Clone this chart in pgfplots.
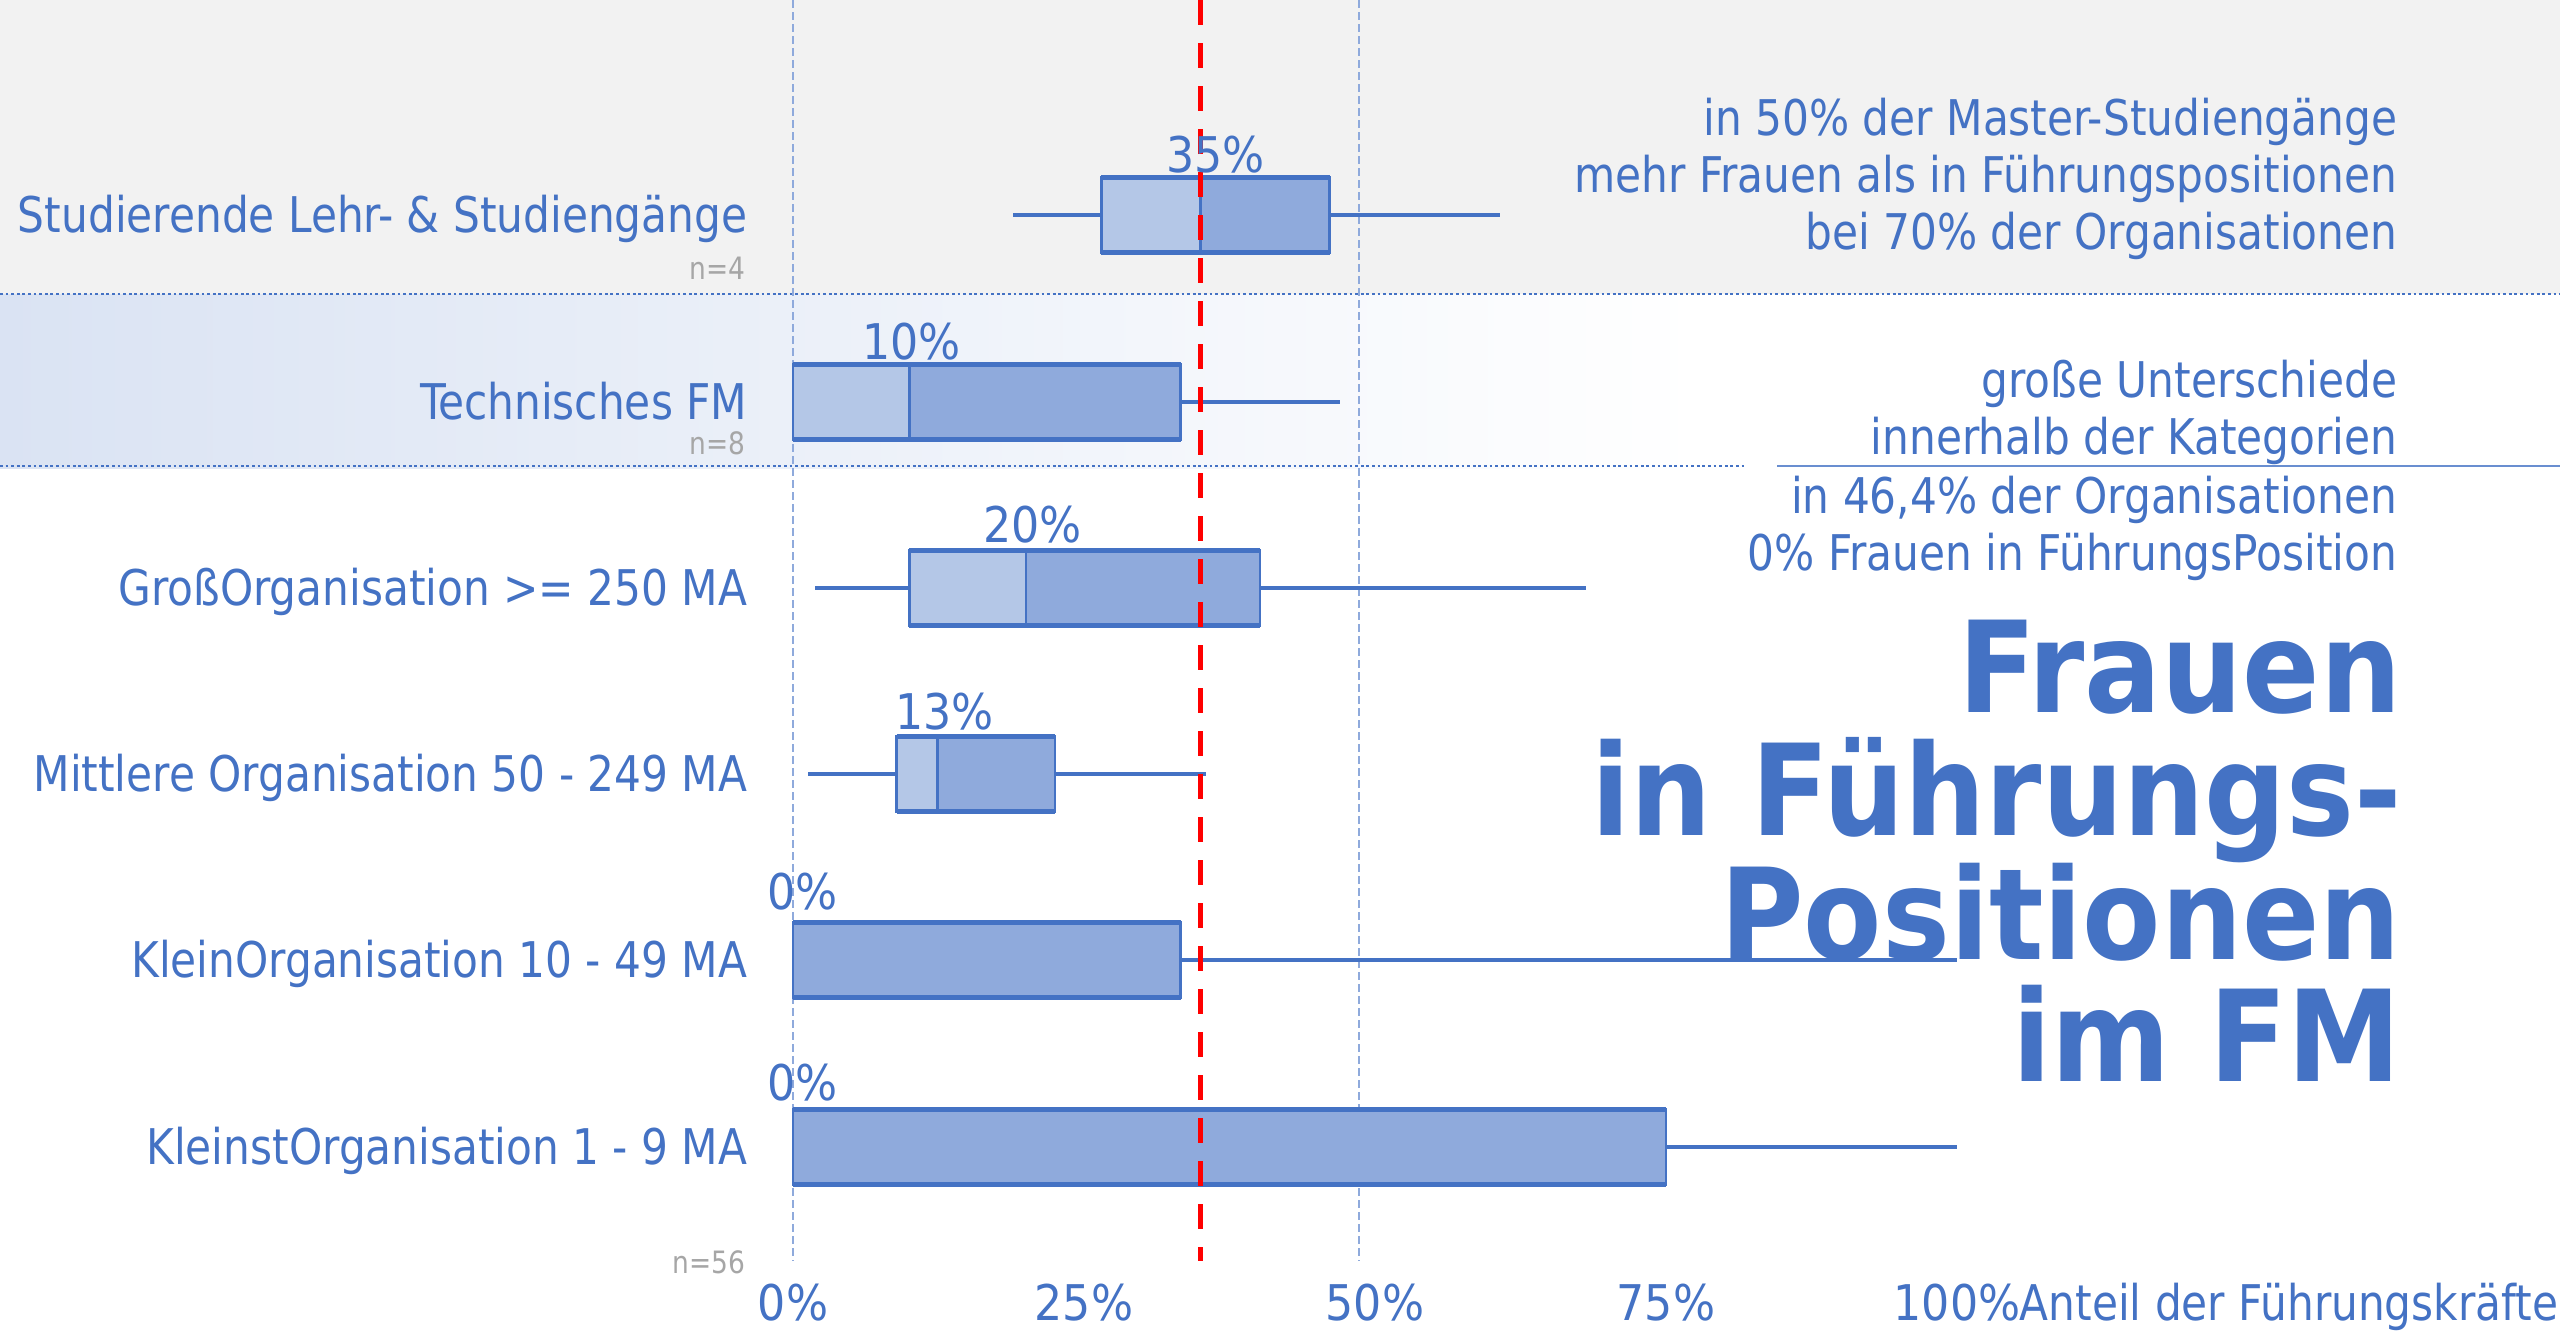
\documentclass[border=0pt]{standalone}
\usepackage{pgfplots}
\pgfplotsset{compat=1.18}
\usepgfplotslibrary{statistics}
\usepackage{fontspec}
\setmainfont{DejaVu Sans Condensed}
\newfontfamily\fmnarrow{DejaVu Sans Condensed}[FakeStretch=0.955]

\definecolor{fmblue}{HTML}{4472C4}
\definecolor{boxlight}{HTML}{B4C7E7}
\definecolor{boxdark}{HTML}{8FAADC}
\definecolor{bandgray}{HTML}{F2F2F2}
\definecolor{bandblue}{HTML}{DAE3F3}
\definecolor{gridblue}{HTML}{8FAADC}
\definecolor{ngray}{HTML}{A6A6A6}

\newcommand\fmtext{\fontsize{12.3}{14}\selectfont}
\newcommand\fmlabel{\fmnarrow\fontsize{12.3}{14}\selectfont}
\newcommand\fmnote{\fmnarrow\fontsize{7.7}{8}\selectfont}
\newcommand\fmtitle{\fontsize{31.7}{32}\selectfont\bfseries}

% two-tone boxes, no whisker caps
\pgfplotsset{
  boxplot/box extend=75,
  boxplot/draw/box/.code={%
    \fill[boxlight] (boxplot box cs:\pgfplotsboxplotvalue{lower quartile},0)
      rectangle (boxplot box cs:\pgfplotsboxplotvalue{median},1);
    \fill[boxdark] (boxplot box cs:\pgfplotsboxplotvalue{median},0)
      rectangle (boxplot box cs:\pgfplotsboxplotvalue{upper quartile},1);
    \draw[fmblue,line width=0.6pt]
      (boxplot box cs:\pgfplotsboxplotvalue{lower quartile},0)
      rectangle (boxplot box cs:\pgfplotsboxplotvalue{upper quartile},1);
    \draw[fmblue,line width=1.4pt]
      (boxplot box cs:\pgfplotsboxplotvalue{lower quartile},0)
      -- (boxplot box cs:\pgfplotsboxplotvalue{upper quartile},0)
      (boxplot box cs:\pgfplotsboxplotvalue{lower quartile},1)
      -- (boxplot box cs:\pgfplotsboxplotvalue{upper quartile},1);
  },
  boxplot/draw/median/.code={%
    \draw[fmblue,line width=0.6pt]
      (boxplot box cs:\pgfplotsboxplotvalue{median},0)
      -- (boxplot box cs:\pgfplotsboxplotvalue{median},1);
  },
  boxplot/draw/lower whisker/.code={%
    \draw[fmblue,line width=1.1pt]
      (boxplot cs:\pgfplotsboxplotvalue{lower quartile})
      -- (boxplot cs:\pgfplotsboxplotvalue{lower whisker});
  },
  boxplot/draw/upper whisker/.code={%
    \draw[fmblue,line width=1.1pt]
      (boxplot cs:\pgfplotsboxplotvalue{upper quartile})
      -- (boxplot cs:\pgfplotsboxplotvalue{upper whisker});
  },
}

\begin{document}
\begin{tikzpicture}
% picture in pixel units, origin top left
\begin{scope}[x=0.25pt,y=-0.25pt]
  \fill[bandgray] (0,0) rectangle (2560,294);
  \shade[left color=bandblue,right color=white] (0,294) rectangle (1700,468);
  \draw[fmblue,line width=0.7pt,dash pattern=on 0.7pt off 0.7pt] (0,294) -- (2560,294);
  \draw[fmblue,line width=0.7pt,dash pattern=on 0.7pt off 0.7pt] (0,466) -- (1745,466);
  \draw[fmblue!80,line width=0.5pt] (1777,466) -- (2560,466);
  % title
  \begin{scope}[every node/.style={anchor=base east,text=fmblue,inner sep=0pt,font=\fmtitle}]
    \node at (2402,712) {Frauen};
    \node at (2402,835) {in Führungs-};
    \node at (2402,959) {Positionen};
    \node at (2402,1081) {im FM};
  \end{scope}
\end{scope}

\begin{axis}[
  at={(0,0)}, anchor=north west,
  scale only axis, width=640pt, height=317.5pt,
  xmin=-68.127, xmax=151.804,
  ymin=0, ymax=1270, y dir=reverse,
  axis line style={draw=none},
  major tick length=0pt,
  xtick={0,25,50,75,100},
  xticklabels={0\%,25\%,50\%,75\%,100\%},
  ytick=\empty,
  x tick label style={font=\fmtext, text=fmblue},
  clip=false,
]
% grid lines
\draw[gridblue,line width=0.4pt,dash pattern=on 2pt off 1pt] (axis cs:0,0) -- (axis cs:0,1261);
\draw[gridblue,line width=0.4pt,dash pattern=on 2pt off 1pt] (axis cs:48.6,0) -- (axis cs:48.6,1261);

% Studierende Lehr- & Studiengänge
\addplot[boxplot prepared={draw position=215, lower whisker=18.9, lower quartile=26.5,
  median=35, upper quartile=46.1, upper whisker=60.7}] coordinates {};
% Technisches FM
\addplot[boxplot prepared={draw position=402, lower whisker=0, lower quartile=0,
  median=10, upper quartile=33.3, upper whisker=47}] coordinates {};
% GroßOrganisation
\addplot[boxplot prepared={draw position=588, lower whisker=1.9, lower quartile=10,
  median=20, upper quartile=40.1, upper whisker=68.1}] coordinates {};
% Mittlere Organisation
\addplot[boxplot prepared={draw position=774, lower whisker=1.3, lower quartile=8.9,
  median=12.4, upper quartile=22.5, upper whisker=35.5}] coordinates {};
% KleinOrganisation
\addplot[boxplot prepared={draw position=960, lower whisker=0, lower quartile=0,
  median=0, upper quartile=33.3, upper whisker=100}] coordinates {};
% KleinstOrganisation
\addplot[boxplot prepared={draw position=1147, lower whisker=0, lower quartile=0,
  median=0, upper quartile=75, upper whisker=100}] coordinates {};

% 35 % reference line
\addplot[red,line width=1.2pt,dash pattern=on 6.25pt off 4.5pt] coordinates {(35,0) (35,1261)};

% median labels
\begin{scope}[every node/.style={anchor=base,text=fmblue,inner sep=0pt,font=\fmtext}]
  \node at (axis cs:36.3,172) {35\%};
  \node at (axis cs:10.2,359) {10\%};
  \node at (axis cs:20.6,542) {20\%};
  \node at (axis cs:13.0,729) {13\%};
  \node at (axis cs:0.8,909) {0\%};
  \node at (axis cs:0.8,1100) {0\%};
\end{scope}
\end{axis}

\begin{scope}[x=0.25pt,y=-0.25pt]
  \begin{scope}[every node/.style={anchor=base east,text=fmblue,inner sep=0pt,font=\fmlabel}]
    \node at (748,232) {Studierende Lehr- \& Studiengänge};
    \node at (748,419) {Technisches FM};
    \node at (748,605) {GroßOrganisation >= 250 MA};
    \node at (748,791) {Mittlere Organisation 50 - 249 MA};
    \node at (748,977) {KleinOrganisation 10 - 49 MA};
    \node at (748,1164) {KleinstOrganisation 1 - 9 MA};
    \node at (2398,135) {in 50\% der Master-Studiengänge};
    \node at (2398,192) {mehr Frauen als in Führungspositionen};
    \node at (2398,249) {bei 70\% der Organisationen};
    \node at (2398,397) {große Unterschiede};
    \node at (2398,454) {innerhalb der Kategorien};
    \node at (2398,513) {in 46,4\% der Organisationen};
    \node at (2398,570) {0\% Frauen in FührungsPosition};
  \end{scope}
  \begin{scope}[every node/.style={anchor=base east,text=ngray,inner sep=0pt,font=\fmnote}]
    \node at (746,279) {n=4};
    \node at (746,454) {n=8};
    \node at (746,1273) {n=56};
  \end{scope}
  \node[anchor=base west,text=fmblue,inner sep=0pt,font=\fmlabel] at (2019,1320) {Anteil der Führungskräfte};
  \pgfresetboundingbox
  \path[use as bounding box] (0,0) rectangle (2560,1332);
\end{scope}
\end{tikzpicture}
\end{document}
